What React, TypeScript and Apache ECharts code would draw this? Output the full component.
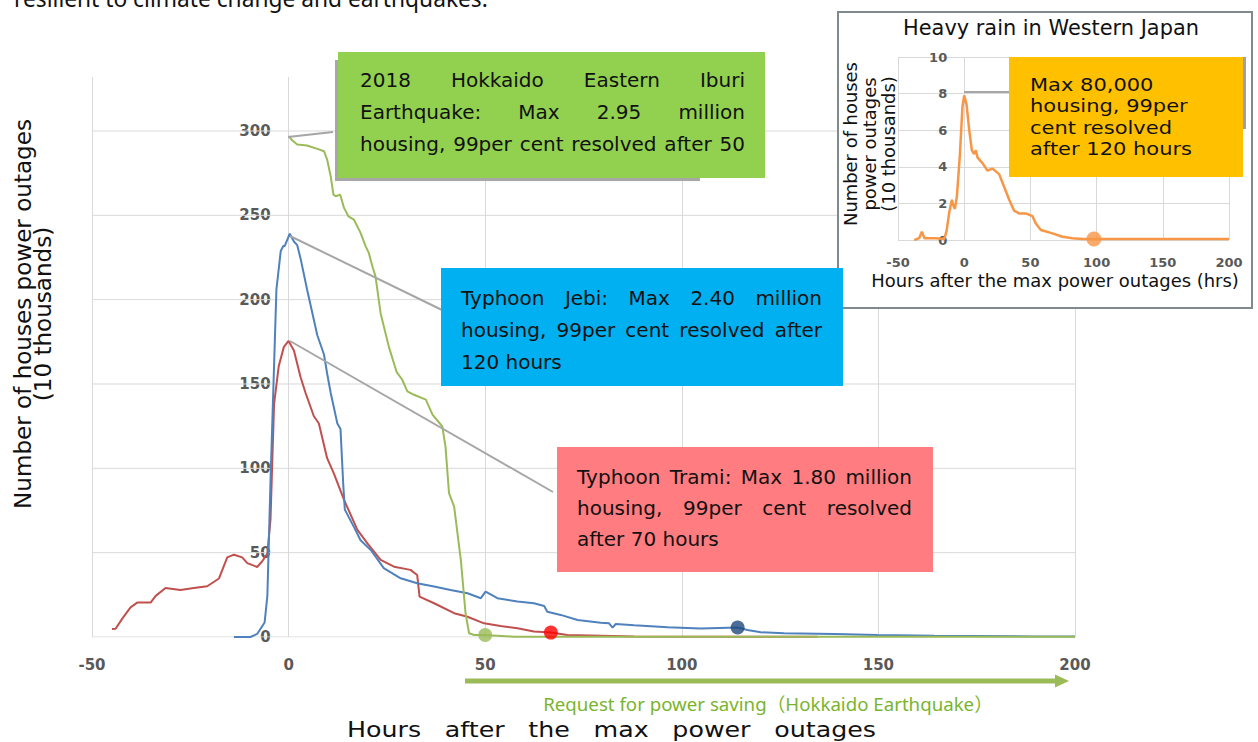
import React, { useEffect, useRef } from "react";
import * as echarts from "echarts";

// ---------- data ----------
const X_MIN = -50;
const X_MAX = 200;
const X_INTERVAL = 50;
const Y_GRID_VALUES = [0, 50, 100, 150, 200, 250, 300];
const Y_MAX = 332;
const INSET_Y_MAX = 10;
const INSET_Y_INTERVAL = 2;

// Typhoon Trami (hours, 10k houses)
const TRAMI: [number, number][] = [
  [-44.9, 4.7], [-44.0, 4.9], [-42.3, 10.9], [-40.2, 17.6], [-38.5, 20.4], [-35.1, 20.4],
  [-33.8, 24.4], [-31.3, 29.0], [-27.5, 27.9], [-24.1, 29.0], [-20.7, 30.1], [-17.7, 34.7],
  [-15.6, 47.2], [-13.9, 48.8], [-11.8, 47.2], [-10.5, 43.8], [-8.0, 41.5], [-6.7, 44.9],
  [-5.4, 49.4], [-4.6, 69.9], [-3.7, 138], [-2.5, 160.7], [-1.2, 172], [0, 175.5],
  [1.35, 169.8], [3.05, 154], [4.3, 144.8], [6.4, 131], [7.7, 126.6], [9.8, 106],
  [11.5, 97], [14.1, 81.3], [17.5, 63.5], [20.0, 55.6], [23.4, 45.7], [26.8, 41.7],
  [31.0, 39.8], [32.7, 36.8], [33.3, 23.9], [37.0, 20.0], [42.1, 14.1], [45.5, 12.0],
  [49.7, 8.1], [53.9, 6.5], [58.2, 5.2], [62.4, 3.2], [66.7, 2.6], [70.9, 1.2],
  [79.4, 0.8], [87.9, 0.3], [100, 0.2], [134.5, 0.2],
];

// Typhoon Jebi
const JEBI: [number, number][] = [
  [-13.9, 0], [-9.7, 0], [-8.0, 1.8], [-6.1, 8.6], [-5.4, 24.4], [-4.6, 92.6],
  [-3.7, 160.7], [-3.1, 206], [-2.0, 228.8], [-1.35, 231.8], [-1.0, 231.8], [0.3, 239.1],
  [1.35, 234.5], [2.2, 232.3], [3.05, 224.3], [4.7, 206], [7.3, 178.9], [9.0, 167.5],
  [9.8, 156.2], [10.7, 144.8], [12.4, 126.6], [13.2, 123.3], [13.9, 90.3], [14.3, 75.5],
  [16.6, 65.3], [18.3, 57.4], [20.9, 51.6], [24.2, 40.8], [28.5, 34.8], [32.7, 31.9],
  [37.0, 29.9], [41.2, 27.9], [45.5, 25.9], [48.9, 23.0], [50.1, 26.9], [53.1, 23.0],
  [58.2, 21.0], [62.4, 20.0], [65.0, 18.4], [65.8, 15.0], [69.2, 13.1], [73.5, 10.1],
  [79.4, 8.5], [81.5, 8.1], [82.4, 5.5], [83.2, 7.7], [87.9, 7.0], [96.4, 5.8],
  [104.8, 5.0], [114.2, 5.6], [116.7, 4.2], [120.1, 2.8], [126.0, 2.2], [138.8, 1.8],
  [149.8, 1.2], [164.2, 0.8], [189.7, 0.3], [200, 0.3],
];

// 2018 Hokkaido Eastern Iburi Earthquake
const IBURI: [number, number][] = [
  [0, 297], [0.9, 294.5], [2.2, 292], [4.7, 291.4], [7.3, 289.4], [9.0, 288],
  [9.8, 283.1], [10.7, 273.2], [11.4, 262.3], [12.0, 261.3], [13.1, 262.3], [14.1, 254.4],
  [15.2, 249.4], [16.6, 247.5], [18.3, 239.6], [19.6, 231.6], [20.4, 227.7], [21.3, 219.8],
  [22.1, 213.8], [23.4, 192], [25.5, 172], [27.5, 157], [28.9, 152.5], [30.2, 145.6],
  [31.9, 143.6], [34.9, 140.7], [36.6, 131.8], [39.1, 124.8], [39.9, 112.9], [40.8, 85.3],
  [42.1, 77.3], [43.8, 45.7], [45.0, 14.1], [45.9, 2.2], [47.2, 1.2], [49.7, 1.2],
  [57.3, 0.2], [200, 0.2],
];

// 99% resolved markers
const RESOLVED_POINTS: [number, number][] = [[50, 1.2], [66.7, 2.6], [114.2, 5.6]];
const RESOLVED_COLORS = ["#9BBB59", "#FF0000", "#1F497D"];

// Heavy rain in Western Japan (inset)
const WEST_JAPAN: [number, number][] = [
  [-37.7, 0], [-34, 0.1], [-32, 0.45], [-30, 0.1], [-21.4, 0.1], [-15.1, 0.05],
  [-13.3, 0.5], [-11.3, 1.5], [-9.3, 2.2], [-8.3, 1.9], [-7.0, 1.7], [-5.5, 2.4],
  [-3.3, 4.6], [-1.3, 7.3], [0, 7.9], [1.8, 7.4], [3.8, 6.0], [5.8, 4.9],
  [7.5, 4.7], [8.8, 4.9], [10.1, 4.5], [13.8, 4.2], [17.6, 3.8], [21.4, 3.9],
  [26.4, 3.6], [30.2, 2.9], [34.0, 2.2], [37.7, 1.6], [41.5, 1.45], [46.5, 1.45],
  [51.6, 1.3], [54.1, 0.9], [57.9, 0.55], [66.7, 0.36], [74.2, 0.18], [81.8, 0.1],
  [89.3, 0.05], [98, 0.05], [200, 0.05],
];
const WEST_RESOLVED: [number, number][] = [[98, 0.05]];

// ---------- texts ----------
const TOP_TEXT = "resilient to climate change and earthquakes.";
const IBURI_NOTE = ["2018 Hokkaido Eastern Iburi", "Earthquake: Max 2.95 million", "housing, 99per cent resolved after 50"];
const JEBI_NOTE = ["Typhoon Jebi: Max 2.40 million", "housing, 99per cent resolved after", "120 hours"];
const TRAMI_NOTE = ["Typhoon Trami: Max 1.80 million", "housing, 99per cent resolved", "after 70 hours"];
const WEST_NOTE = ["Max 80,000", "housing, 99per", "cent resolved", "after 120 hours"];
const Y_TITLE = ["Number of houses power outages", "(10 thousands)"];
const X_TITLE = "Hours after the max power outages";
const INSET_TITLE = "Heavy rain in Western Japan";
const INSET_X_TITLE = "Hours after the max power outages (hrs)";
const INSET_Y_TITLE = ["Number of houses", "power outages", "(10 thousands)"];
const SAVING_TEXT = "Request for power saving（Hokkaido Earthquake）";

// ---------- helpers ----------
const FONT = "'DejaVu Sans', 'Noto Sans CJK JP', sans-serif";
const SANS = "'Noto Sans', 'Noto Sans CJK JP', sans-serif";
const AXIS_FONT = "'DejaVu Sans', sans-serif";
let measureCtx: CanvasRenderingContext2D | null = null;
function textWidth(text: string, size: number, family: string, weight = "normal") {
  if (!measureCtx) measureCtx = document.createElement("canvas").getContext("2d");
  measureCtx!.font = `${weight} ${size}px ${family}`;
  return measureCtx!.measureText(text).width;
}
function fitSize(text: string, target: number, family = FONT) {
  return (20 * target) / textWidth(text, 20, family);
}
function txt(text: string, x: number, y: number, size: number, o: any = {}) {
  return {
    type: "text",
    x,
    y,
    z: o.z ?? 11,
    rotation: o.rotation ?? 0,
    scaleX: o.scaleX ?? 1,
    silent: true,
    style: {
      text,
      fontSize: size,
      fontFamily: o.family ?? FONT,
      fontWeight: o.weight ?? "normal",
      fill: o.color ?? "#111",
      align: o.align ?? "left",
      verticalAlign: "middle",
    },
  };
}
function justified(text: string, x0: number, x1: number, y: number, size: number, o: any = {}) {
  const words = text.split(" ");
  const family = o.family ?? FONT;
  const sx = o.scaleX ?? 1;
  const ws = words.map((w) => textWidth(w, size, family) * sx);
  const total = ws.reduce((a, b) => a + b, 0);
  const gap = words.length > 1 ? Math.max((x1 - x0 - total) / (words.length - 1), size * 0.2) : 0;
  let x = x0;
  return words.map((w, i) => {
    const el = txt(w, x, y, size, o);
    x += ws[i] + gap;
    return el;
  });
}

export default function App() {
  const ref = useRef<HTMLDivElement>(null);
  useEffect(() => {
    if (!ref.current) return;
    const chart = echarts.init(ref.current, undefined, { renderer: "svg" });

    const axisLabelMain = { color: "#595959", fontFamily: AXIS_FONT, fontWeight: "bold", fontSize: 15 };
    const axisLabelInset = { color: "#595959", fontFamily: AXIS_FONT, fontWeight: "bold", fontSize: 13 };
    const gridLine = { show: true, lineStyle: { color: "#D9D9D9", width: 1 } };

    // grid geometry
    const MAIN = { left: 92, right: 183, top: 77, bottom: 105 };
    const INSET = { left: 898, right: 29, top: 57, bottom: 502 };
    const mainW = 1258 - MAIN.left - MAIN.right;
    const insetW = 1258 - INSET.left - INSET.right;
    const mainZeroOffset = (mainW * (0 - X_MIN)) / (X_MAX - X_MIN);
    const insetZeroOffset = (insetW * (0 - X_MIN)) / (X_MAX - X_MIN);

    const gridSeries = Y_GRID_VALUES.map((v) => ({
      type: "line",
      xAxisIndex: 0,
      yAxisIndex: 0,
      data: [[X_MIN, v], [X_MAX, v]],
      symbol: "none",
      silent: true,
      z: 1,
      lineStyle: { color: "#D9D9D9", width: 1 },
    }));

    const lineSeries = (data: any, color: string, width = 2, xi = 0, z = 2) => ({
      type: "line",
      xAxisIndex: xi,
      yAxisIndex: xi,
      data,
      symbol: "none",
      z,
      lineStyle: { color, width },
    });

    const noteSize = 20;
    const noteScale = Math.min(1, 383 / textWidth(IBURI_NOTE[2], noteSize, FONT));
    const nf = { scaleX: noteScale };
    const westSize = 18;
    const westScale = 162 / textWidth(WEST_NOTE[3], westSize, FONT);
    const yTitleSize = fitSize(Y_TITLE[0], 390);
    const insetYSize = fitSize(INSET_Y_TITLE[0], 164);
    const savingSize = fitSize(SAVING_TEXT, 450, SANS);

    const graphic: any[] = [
      // top cut-off text
      txt(TOP_TEXT, 14, -2, fitSize(TOP_TEXT, 474, SANS), { family: SANS }),
      // inset frame
      { type: "rect", z: 3, silent: true, shape: { x: 838, y: 12, width: 414, height: 296 }, style: { fill: "#fff", stroke: "#7F8A8C", lineWidth: 2 } },
      txt(INSET_TITLE, 1051, 28, fitSize(INSET_TITLE, 296), { align: "center", z: 7 }),
      txt(INSET_X_TITLE, 1055, 280, fitSize(INSET_X_TITLE, 368), { align: "center", z: 7 }),
      ...INSET_Y_TITLE.map((t, i) =>
        txt(t, 850 + i * 19, 144, insetYSize, { align: "center", rotation: Math.PI / 2, z: 7 })
      ),
      // leader lines
      { type: "line", z: 9, silent: true, shape: { x1: 288, y1: 137, x2: 333, y2: 132 }, style: { stroke: "#A6A6A6", lineWidth: 2 } },
      { type: "line", z: 9, silent: true, shape: { x1: 290, y1: 236, x2: 442, y2: 310 }, style: { stroke: "#A6A6A6", lineWidth: 2 } },
      { type: "line", z: 9, silent: true, shape: { x1: 290, y1: 341, x2: 553, y2: 492 }, style: { stroke: "#A6A6A6", lineWidth: 2 } },
      { type: "line", z: 9, silent: true, shape: { x1: 964, y1: 92, x2: 1009, y2: 92 }, style: { stroke: "#A6A6A6", lineWidth: 2 } },
      // note boxes
      { type: "rect", z: 10, silent: true, shape: { x: 335, y: 60, width: 365, height: 121 }, style: { fill: "#A8A8A8" } },
      { type: "rect", z: 10, silent: true, shape: { x: 338, y: 52, width: 427, height: 126 }, style: { fill: "#92D050" } },
      { type: "rect", z: 10, silent: true, shape: { x: 441, y: 268, width: 402, height: 118 }, style: { fill: "#00B0F0" } },
      { type: "rect", z: 10, silent: true, shape: { x: 557, y: 447, width: 376, height: 125 }, style: { fill: "#FF7C80" } },
      { type: "rect", z: 10, silent: true, shape: { x: 1243, y: 57, width: 3, height: 72 }, style: { fill: "#A0A0A0" } },
      { type: "rect", z: 10, silent: true, shape: { x: 1009, y: 57, width: 234, height: 120 }, style: { fill: "#FFC000" } },
      ...justified(IBURI_NOTE[0], 360, 745, 80, noteSize, nf),
      ...justified(IBURI_NOTE[1], 360, 745, 112, noteSize, nf),
      ...justified(IBURI_NOTE[2], 360, 745, 144, noteSize, nf),
      ...justified(JEBI_NOTE[0], 461, 822, 298, noteSize, nf),
      ...justified(JEBI_NOTE[1], 461, 822, 330, noteSize, nf),
      txt(JEBI_NOTE[2], 461, 362, noteSize, nf),
      ...justified(TRAMI_NOTE[0], 577, 912, 477, noteSize, nf),
      ...justified(TRAMI_NOTE[1], 577, 912, 508, noteSize, nf),
      txt(TRAMI_NOTE[2], 577, 539, noteSize, nf),
      ...WEST_NOTE.map((t, i) => txt(t, 1030, 85 + i * 21.3, westSize, { scaleX: westScale })),
      // axis titles
      ...Y_TITLE.map((t, i) =>
        txt(t, 23 + i * 20, 314, yTitleSize, { align: "center", rotation: Math.PI / 2, z: 11 })
      ),
      ...justified(X_TITLE, 347, 876, 730, 22, { scaleX: 1.15 }),
      // power saving arrow
      { type: "line", z: 9, silent: true, shape: { x1: 465, y1: 681, x2: 1058, y2: 681 }, style: { stroke: "#9BBB59", lineWidth: 5 } },
      { type: "polygon", z: 9, silent: true, shape: { points: [[1055, 674.5], [1069, 681], [1055, 687.5]] }, style: { fill: "#9BBB59" } },
      txt(SAVING_TEXT, 768, 703, savingSize, { align: "center", color: "#7AB42E", z: 11, family: SANS }),
    ];

    const option: any = {
      animation: false,
      backgroundColor: "#ffffff",
      grid: [MAIN, INSET],
      xAxis: [
        {
          type: "value", gridIndex: 0, min: X_MIN, max: X_MAX, interval: X_INTERVAL, z: 0,
          axisLine: { show: false, onZero: false }, axisTick: { show: false },
          axisLabel: { ...axisLabelMain, margin: 20 }, splitLine: gridLine,
        },
        {
          type: "value", gridIndex: 1, min: X_MIN, max: X_MAX, interval: X_INTERVAL, z: 5,
          axisLine: { show: false, onZero: false }, axisTick: { show: false },
          axisLabel: { ...axisLabelInset, margin: 16 }, splitLine: gridLine,
        },
      ],
      yAxis: [
        {
          type: "value", gridIndex: 0, min: 0, max: Y_MAX, interval: 50, z: 0, position: "left",
          offset: -mainZeroOffset,
          axisLine: { show: false, onZero: false }, axisTick: { show: false },
          axisLabel: { ...axisLabelMain, margin: 18, showMaxLabel: false }, splitLine: { show: false },
        },
        {
          type: "value", gridIndex: 1, min: 0, max: INSET_Y_MAX, interval: INSET_Y_INTERVAL, z: 5, position: "left",
          offset: -insetZeroOffset,
          axisLine: { show: false, onZero: false }, axisTick: { show: false },
          axisLabel: { ...axisLabelInset, margin: 17 }, splitLine: gridLine,
        },
      ],
      series: [
        ...gridSeries,
        lineSeries(TRAMI, "#C0504D"),
        lineSeries(JEBI, "#4F81BD"),
        lineSeries(IBURI, "#9BBB59"),
        {
          type: "scatter", xAxisIndex: 0, yAxisIndex: 0, symbolSize: 14, z: 4,
          data: RESOLVED_POINTS.map((p, i) => ({ value: p, itemStyle: { color: RESOLVED_COLORS[i] } })),
        },
        lineSeries(WEST_JAPAN, "#F79646", 2.5, 1, 6),
        {
          type: "scatter", xAxisIndex: 1, yAxisIndex: 1, symbolSize: 15, z: 7,
          data: WEST_RESOLVED, itemStyle: { color: "#F79646" },
        },
      ],
      graphic,
    };
    chart.setOption(option);
    return () => chart.dispose();
  }, []);
  return <div ref={ref} style={{ position: "absolute", left: 0, top: 0, width: 1258, height: 742 }} />;
}
